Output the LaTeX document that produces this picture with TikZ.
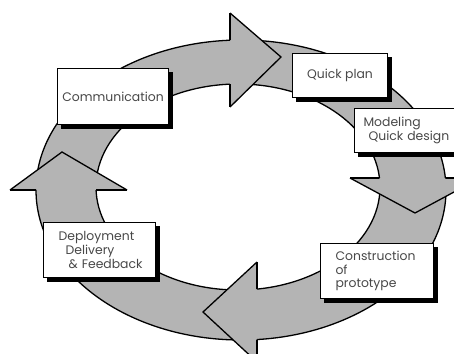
\documentclass[tikz,border=0pt]{standalone}
\usepackage{fontspec}
\setmainfont{Poppins}
\usetikzlibrary{shadows}
\definecolor{ringgray}{HTML}{B4B4B4}
\definecolor{txtgray}{HTML}{484848}
\tikzset{
  ringline/.style={line width=1.3pt, line join=miter},
  phasebox/.style={draw=black, line width=1.1pt, fill=white, rectangle, anchor=north west,
    font=\fontsize{12.4}{13.6}\selectfont, text=txtgray,
    drop shadow={fill=black, draw=black, opacity=1, shadow xshift=4pt, shadow yshift=-4pt}},
}
\begin{document}
\begin{tikzpicture}[x=1pt,y=-1pt]
\clip (0,0) rectangle (454,353);
\fill[white] (0,0) rectangle (454,353);
% ring
\fill[ringgray, even odd rule] (241,190) ellipse[x radius=205pt, y radius=150pt]
  (238,187) ellipse[x radius=142pt, y radius=103pt];
\draw[ringline] (241,190) ellipse[x radius=205pt, y radius=150pt];
\draw[ringline] (238,187) ellipse[x radius=142pt, y radius=103pt];
% arrowhead corners
\coordinate (t1) at (230,13);  \coordinate (t2) at (230,107); \coordinate (tt) at (281,57);
\coordinate (r1) at (350,178); \coordinate (r2) at (480,178); \coordinate (rt) at (415,213);
\coordinate (b1) at (257,262); \coordinate (b2) at (257,362); \coordinate (bt) at (203,312);
\coordinate (l1) at (10,190);  \coordinate (l2) at (127,190); \coordinate (lt) at (62,152);
\foreach \a/\b/\c in {t1/tt/t2, r1/rt/r2, b1/bt/b2, l1/lt/l2}{
  \fill[ringgray] (\a) -- (\b) -- (\c) -- cycle;
  \draw[ringline] (\a) -- (\b) -- (\c);
}
\begin{scope}[even odd rule]
\clip (-10,-10) rectangle (470,370)
  (241,190) ellipse[x radius=205pt, y radius=150pt]
  (238,187) ellipse[x radius=142pt, y radius=103pt];
\foreach \a/\c in {t1/t2, r1/r2, b1/b2, l1/l2}{
  \draw[ringline] (\a) -- (\c);
}
\end{scope}
% boxes
\node[phasebox, minimum width=111pt, minimum height=56pt, align=center] (comm) at (57,68) {Communication};
\node[phasebox, minimum width=95pt, minimum height=44pt, align=center] (plan) at (292,53) {Quick plan};
\node[phasebox, minimum width=116pt, minimum height=44pt, align=left, text width=98pt, inner xsep=9pt] (model) at (354,108)
  {Modeling\\\hspace*{5pt}\mbox{Quick design}};
\node[phasebox, minimum width=113pt, minimum height=55pt, align=left, text width=83pt, inner xsep=15pt] (cons) at (320,243)
  {Construction\\of\\prototype};
\node[phasebox, minimum width=112pt, minimum height=55pt, align=left, text width=82pt, inner xsep=15pt] (depl) at (43,222)
  {Deployment\\\hspace*{7pt}Delivery\\\hspace*{10pt}\mbox{\& Feedback}};
\end{tikzpicture}
\end{document}
